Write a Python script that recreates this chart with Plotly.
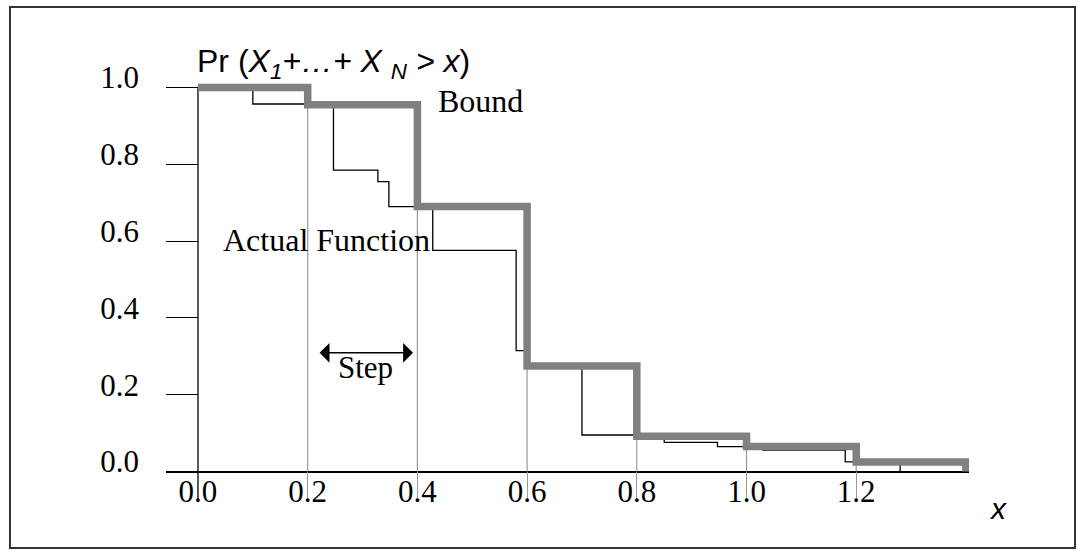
import plotly.graph_objects as go

# ---- data ----
bound_x = [0.0, 0.2, 0.4, 0.6, 0.8, 1.0, 1.2, 1.4]
bound_y = [1.0, 0.955, 0.69, 0.275, 0.092, 0.065, 0.025, 0.0]

actual_x = [0.0, 0.10, 0.247, 0.328, 0.348, 0.428, 0.580, 0.60, 0.70, 0.85, 0.947, 1.03, 1.18, 1.28]
actual_y = [1.0, 0.957, 0.785, 0.755, 0.690, 0.576, 0.315, 0.273, 0.095, 0.076, 0.065, 0.056, 0.025, 0.0]

x_ticks = [0.0, 0.2, 0.4, 0.6, 0.8, 1.0, 1.2]
x_ticktext = ["0.0", "0.2", "0.4", "0.6", "0.8", "1.0", "1.2"]
y_ticks = [0.0, 0.2, 0.4, 0.6, 0.8, 1.0]
y_ticktext = ["0.0", "0.2", "0.4", "0.6", "0.8", "1.0"]

step_from, step_to = 0.219, 0.392

# ---- layout constants ----
X_RANGE = [-0.0583, 1.4056]
Y_RANGE = [-0.0742, 1.0247]
SERIF = "Liberation Serif, Times New Roman, serif"
SANS = "Liberation Sans, Arial, sans-serif"
GRAY = "#808080"
LIGHT = "#9a9a9a"

# drop lines from each bound step down to the axis
drop_x, drop_y = [], []
for xv, yv in zip(bound_x[1:-1], bound_y[1:-1]):
    drop_x += [xv, xv, None]
    drop_y += [yv, 0.0, None]

fig = go.Figure()
fig.add_trace(go.Scatter(x=drop_x, y=drop_y, mode="lines",
                         line=dict(color=LIGHT, width=1.2), hoverinfo="skip", showlegend=False))
fig.add_trace(go.Scatter(x=actual_x, y=actual_y, mode="lines", line_shape="hv",
                         line=dict(color="black", width=1.3), showlegend=False))
fig.add_trace(go.Scatter(x=bound_x, y=bound_y, mode="lines", line_shape="hv",
                         line=dict(color=GRAY, width=7.5), showlegend=False))

fig.update_layout(
    width=1081, height=554, autosize=False,
    margin=dict(l=166, r=112, t=78, b=54),
    paper_bgcolor="white", plot_bgcolor="white",
    showlegend=False,
    xaxis=dict(range=X_RANGE, showgrid=False, zeroline=False, showline=False,
               tickmode="array", tickvals=x_ticks, ticktext=x_ticktext, ticks="",
               ticklabelstandoff=-30,
               tickfont=dict(family=SERIF, size=31, color="black"),
               minor=dict(tickmode="array", tickvals=x_ticks[1:], ticks="inside",
                          ticklen=28, tickcolor=LIGHT, tickwidth=1.2, showgrid=False)),
    yaxis=dict(range=Y_RANGE, showgrid=False, showline=False,
               zeroline=True, zerolinecolor="black", zerolinewidth=1.5,
               tickmode="array", tickvals=y_ticks, ticktext=y_ticktext,
               ticks="inside", ticklen=32, tickcolor="black", tickwidth=1.2,
               ticklabelposition="outside", ticklabelstandoff=26, ticklabelshift=-10,
               tickfont=dict(family=SERIF, size=31, color="black")),
)

# vertical axis line at x = 0 (from 1.0 down through the tick-label row)
fig.add_shape(type="line", xref="x", yref="y", x0=0, x1=0, y0=1.0, y1=Y_RANGE[0],
              line=dict(color="black", width=1.3), layer="below")

# outer frame
fig.add_shape(type="rect", xref="paper", yref="paper",
              x0=-0.1943, x1=1.132, y0=-0.1137, y1=1.168,
              line=dict(color="#333333", width=2), fillcolor="rgba(0,0,0,0)", layer="above")

# annotations
fig.add_annotation(xref="paper", yref="paper", x=0.036, y=1.035, xanchor="left", yanchor="middle",
                   text="Pr (<i>X<sub>1</sub>+\u2026+ X <sub>N</sub> &gt; x</i>)", showarrow=False,
                   font=dict(family=SANS, size=32, color="black"))
fig.add_annotation(xref="x", yref="y", x=0.433, y=0.965, xanchor="left", yanchor="middle",
                   text="Bound", showarrow=False, font=dict(family=SERIF, size=32, color="black"))
fig.add_annotation(xref="x", yref="y", x=0.042, y=0.603, xanchor="left", yanchor="middle",
                   text="Actual Function", showarrow=False, font=dict(family=SERIF, size=32, color="black"))
fig.add_annotation(xref="x", yref="y", x=(step_from + step_to) / 2, y=0.272, xanchor="center", yanchor="middle",
                   text="Step", showarrow=False, font=dict(family=SERIF, size=31, color="black"))
fig.add_annotation(xref="x", yref="y", axref="x", ayref="y",
                   x=step_to, y=0.309, ax=step_from, ay=0.309, text="",
                   showarrow=True, arrowhead=1, arrowside="end+start", arrowsize=2.2,
                   arrowwidth=1.5, arrowcolor="black", standoff=0, startstandoff=0)
fig.add_annotation(xref="paper", yref="paper", x=1.036, y=-0.02, xanchor="center", yanchor="middle",
                   text="<i>x</i>", showarrow=False, font=dict(family=SANS, size=30, color="black"))

fig.write_html("out.html", config={"displayModeBar": False},
               post_script="document.body.style.margin='0';")
